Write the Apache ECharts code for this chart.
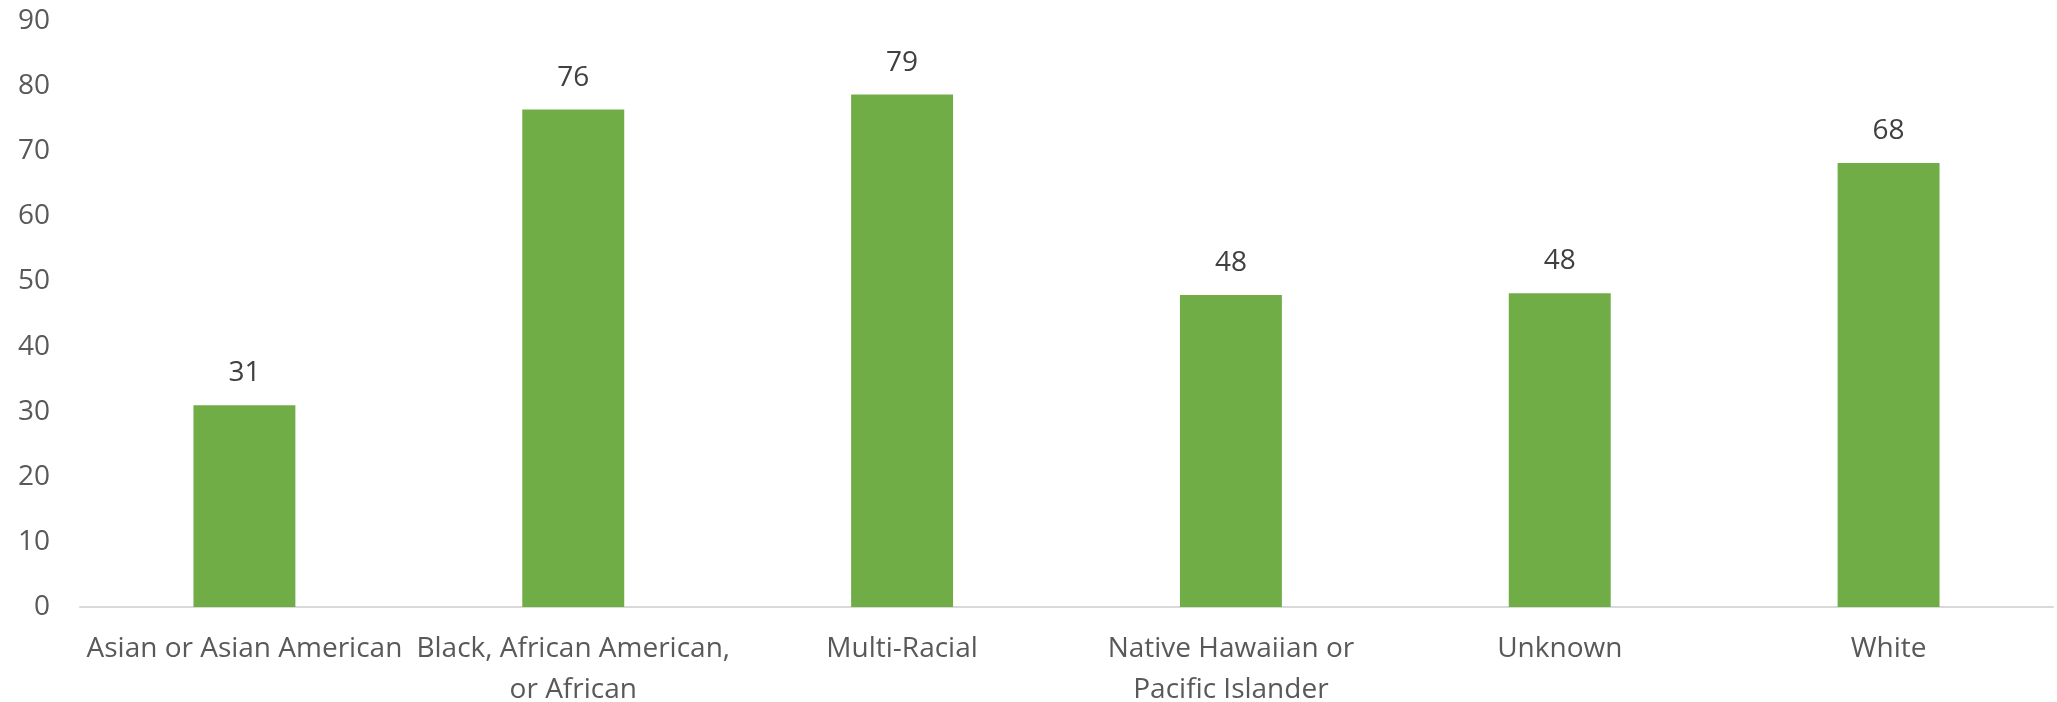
<!DOCTYPE html>
<html><head><meta charset="utf-8">
<script src="https://cdn.jsdelivr.net/npm/echarts@6/dist/echarts.min.js"></script>
<style>html,body{margin:0;padding:0;background:#fff}#c{width:2057px;height:702px}</style>
</head><body><div id="c"></div>
<script>
const categories = ["Asian or Asian American", "Black, African American,\nor African", "Multi-Racial", "Native Hawaiian or\nPacific Islander", "Unknown", "White"];
const values = [31.0, 76.4, 78.7, 47.9, 48.2, 68.2];
const yTicks = [0, 10, 20, 30, 40, 50, 60, 70, 80, 90];

const chart = echarts.init(document.getElementById('c'));
const font = '"Open Sans", sans-serif';
chart.setOption({
  animation: false,
  grid: {left: 80, right: 4, top: 21, bottom: 95, containLabel: false, outerBoundsMode: 'none'},
  xAxis: {
    type: 'category', data: categories,
    axisLine: {show: true, lineStyle: {color: '#D9D9D9', width: 2}},
    axisTick: {show: false},
    axisLabel: {color: '#595959', fontFamily: font, fontSize: 28, lineHeight: 41, margin: 22, interval: 0}
  },
  yAxis: {
    type: 'value', min: yTicks[0], max: yTicks[yTicks.length - 1], interval: 10,
    splitLine: {show: false}, axisLine: {show: false}, axisTick: {show: false},
    axisLabel: {color: '#595959', fontFamily: font, fontSize: 28, margin: 30}
  },
  series: [{
    type: 'bar', data: values, barWidth: '31%',
    itemStyle: {color: '#70AD47'},
    label: {show: true, position: 'top', distance: 18, color: '#404040', fontFamily: font, fontSize: 28,
      formatter: p => Math.round(p.value)}
  }]
});
</script></body></html>
